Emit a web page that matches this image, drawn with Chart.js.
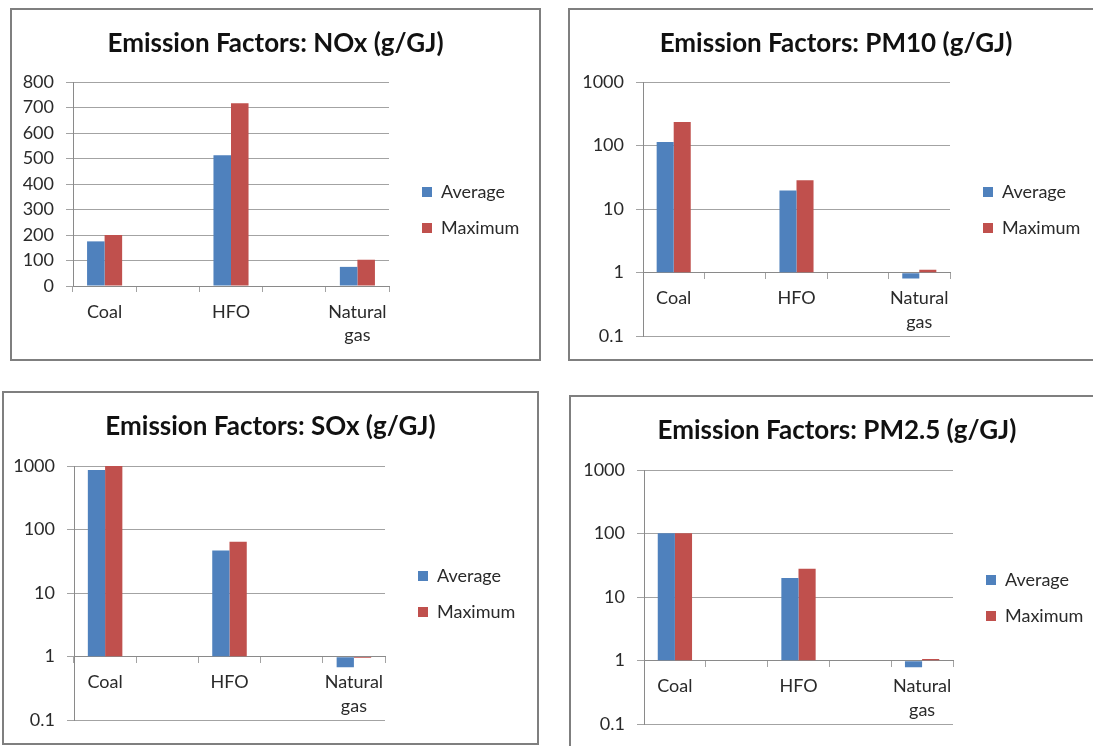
<!DOCTYPE html>
<html>
<head>
<meta charset="utf-8">
<title>Emission Factors</title>
<script src="https://cdn.jsdelivr.net/npm/chart.js@4.4.1/dist/chart.umd.min.js"></script>
<style>
  html, body { margin: 0; padding: 0; background: #fff; }
  body { width: 1093px; height: 746px; overflow: hidden; position: relative; }
  .panel { position: absolute; border: 2px solid #7f7f7f; background: #fff; }
  .panel canvas { display: block; }
</style>
</head>
<body>
<div class="panel" style="left:10px;top:8px;"><canvas id="nox" width="527" height="349"></canvas></div>
<div class="panel" style="left:568px;top:8px;"><canvas id="pm10" width="532" height="349"></canvas></div>
<div class="panel" style="left:2px;top:391px;"><canvas id="sox" width="533" height="350"></canvas></div>
<div class="panel" style="left:569px;top:395px;"><canvas id="pm25" width="532" height="350"></canvas></div>
<script>
// Fuel categories; the blank entries keep empty slots between the fuels.
const fuels = ['Coal', '', 'HFO', '', ['Natural', 'gas']];

// Emission factors, g/GJ
const noxAverage  = [175, null, 513, null, 75];
const noxMaximum  = [200, null, 717, null, 103];
const pm10Average = [114, null, 19.7, null, 0.81];
const pm10Maximum = [234, null, 28.5, null, 1.11];
const soxAverage  = [865, null, 47, null, 0.68];
const soxMaximum  = [1000, null, 64, null, 0.95];
const pm25Average = [101, null, 20, null, 0.79];
const pm25Maximum = [101, null, 28, null, 1.06];

// Value-axis ticks
const noxTicks = [0, 100, 200, 300, 400, 500, 600, 700, 800];
const logTicks = [0.1, 1, 10, 100, 1000];

const BLUE = '#4F81BD';
const RED = '#C0504D';
const GRID = '#a3a3a3';
const AXIS = '#8a8a8a';
const INK = '#2a2a2a';
const FONT = 'Lato, "Open Sans", sans-serif';

// Centres the title across the whole panel and places the legend
// a fixed distance right of / below the plot area's top-right corner.
const panelLayout = {
  id: 'panelLayout',
  afterLayout(chart, args, opts) {
    const t = chart.titleBlock;
    if (t) {
      t.left = 0;
      t.right = chart.width;
      t.width = chart.width;
    }
    const lg = chart.legend;
    const area = chart.chartArea;
    const w = lg.width, h = lg.height;
    lg.left = area.right + opts.dx;
    lg.right = lg.left + w;
    lg.top = area.top + opts.dy;
    lg.bottom = lg.top + h;
  }
};

function emissionChart(id, title, average, maximum, tickValues, logScale, box) {
  const valueScale = logScale
    ? { type: 'logarithmic', min: 0.1, max: 1000 }
    : { type: 'linear', min: 0, max: 800 };
  const barBase = logScale ? { base: 1 } : {};

  new Chart(document.getElementById(id), {
    type: 'bar',
    data: {
      labels: fuels,
      datasets: [
        Object.assign({ label: 'Average', data: average, backgroundColor: BLUE, borderWidth: 0 }, barBase),
        Object.assign({ label: 'Maximum', data: maximum, backgroundColor: RED, borderWidth: 0 }, barBase)
      ]
    },
    options: {
      responsive: false,
      animation: false,
      events: [],
      layout: { padding: box.padding },
      datasets: { bar: { categoryPercentage: 0.555, barPercentage: 1 } },
      scales: {
        x: {
          position: logScale ? { y: 1 } : 'bottom',
          offset: true,
          grid: { offset: true, drawOnChartArea: false, drawTicks: true, tickLength: 6, color: GRID },
          border: { color: AXIS, width: 1 },
          ticks: {
            color: INK, padding: 8, maxRotation: 0, autoSkip: false,
            font: { family: FONT, size: 18, lineHeight: 1.3 }
          },
          afterFit: s => { s.height = 60; }
        },
        y: Object.assign(valueScale, {
          afterBuildTicks: s => { s.ticks = tickValues.map(v => ({ value: v })); },
          grid: { color: GRID, tickLength: 7, lineWidth: 1 },
          border: { color: AXIS, width: 1 },
          ticks: {
            color: INK, padding: 12,
            font: { family: FONT, size: 18 },
            callback: v => String(v)
          },
          afterFit: s => { s.width = box.axisWidth; }
        })
      },
      plugins: {
        title: {
          display: true, text: title, color: '#111',
          font: { family: FONT, size: 26, weight: 'bold', lineHeight: 1.2 },
          padding: { top: 18.4, bottom: box.titleBottom }
        },
        legend: {
          position: 'chartArea', align: 'start',
          labels: { boxWidth: 10, boxHeight: 10, padding: 18, color: INK, font: { family: FONT, size: 18 } }
        },
        panelLayout: { dx: 15, dy: 83 },
        tooltip: { enabled: false }
      }
    },
    plugins: [panelLayout]
  });
}

emissionChart('nox', 'Emission Factors: NOx (g/GJ)', noxAverage, noxMaximum, noxTicks, false,
  { padding: { left: 0, right: 150, top: 0, bottom: 13 }, axisWidth: 61, titleBottom: 22.4 });
emissionChart('pm10', 'Emission Factors: PM10 (g/GJ)', pm10Average, pm10Maximum, logTicks, true,
  { padding: { left: 3, right: 152, top: 0, bottom: 22 }, axisWidth: 70, titleBottom: 22.4 });
emissionChart('sox', 'Emission Factors: SOx (g/GJ)', soxAverage, soxMaximum, logTicks, true,
  { padding: { left: 0, right: 152, top: 0, bottom: 21 }, axisWidth: 70, titleBottom: 23.4 });
emissionChart('pm25', 'Emission Factors: PM2.5 (g/GJ)', pm25Average, pm25Maximum, logTicks, true,
  { padding: { left: 3, right: 150, top: 0, bottom: 21 }, axisWidth: 70, titleBottom: 23.4 });
</script>
</body>
</html>
